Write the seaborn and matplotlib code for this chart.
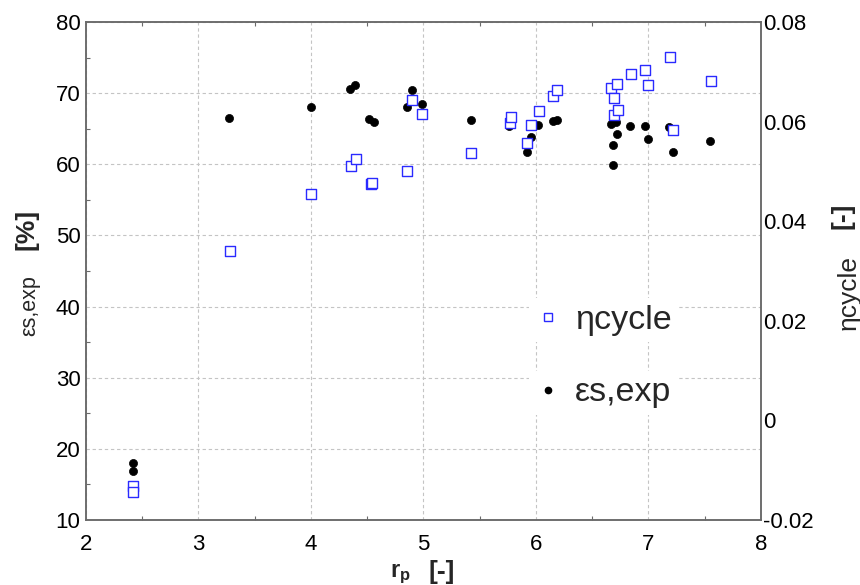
import matplotlib
matplotlib.use("Agg")
import matplotlib.pyplot as plt
import seaborn as sns
import pandas as pd
from matplotlib.ticker import MultipleLocator
from matplotlib.lines import Line2D

# ---- data ----
rp_eps = [2.42, 2.42, 3.27, 4.00, 4.35, 4.39, 4.52, 4.56, 4.85, 4.895, 4.99, 5.42, 5.76,
          5.92, 5.955, 6.02, 6.15, 6.19, 6.665, 6.685, 6.685, 6.715, 6.72, 6.84, 6.965,
          7.0, 7.185, 7.215, 7.55]
eps_exp = [18.0, 16.9, 66.5, 68.1, 70.6, 71.1, 66.3, 66.0, 68.0, 70.4, 68.5, 66.2, 65.4,
           61.7, 63.8, 65.5, 66.1, 66.2, 65.7, 62.7, 59.9, 66.0, 64.2, 65.4, 65.4,
           63.5, 65.3, 61.7, 63.3]

rp_eta = [2.42, 2.42, 3.28, 4.00, 4.355, 4.40, 4.53, 4.545, 4.855, 4.90, 4.99, 5.425, 5.77,
          5.78, 5.92, 5.96, 6.025, 6.155, 6.19, 6.67, 6.69, 6.69, 6.72, 6.73, 6.845,
          6.97, 7.0, 7.19, 7.22, 7.555]
eta_cycle = [-0.0131, -0.0144, 0.0341, 0.0454, 0.0510, 0.0524, 0.0474, 0.0476, 0.0501,
             0.0644, 0.0616, 0.0536, 0.0597, 0.0610, 0.0557, 0.0593, 0.0621, 0.0651,
             0.0663, 0.0668, 0.0647, 0.0614, 0.0676, 0.0623, 0.0696, 0.0703, 0.0674,
             0.0730, 0.0584, 0.0681]

x_ticks = [2, 3, 4, 5, 6, 7, 8]
left_ticks = [10, 20, 30, 40, 50, 60, 70, 80]
right_ticks = [-0.02, 0, 0.02, 0.04, 0.06, 0.08]
right_ticklabels = ["-0.02", "0", "0.02", "0.04", "0.06", "0.08"]

df_eps = pd.DataFrame({"rp": rp_eps, "eps": eps_exp})
df_eta = pd.DataFrame({"rp": rp_eta, "eta": eta_cycle})

sns.set_theme(style="white")
plt.rcParams["font.family"] = ["Liberation Sans", "DejaVu Sans"]
plt.rcParams["mathtext.fontset"] = "custom"
plt.rcParams["mathtext.rm"] = "Liberation Sans"
plt.rcParams["mathtext.bf"] = "Liberation Sans:bold"

W, H = 860, 585
fig = plt.figure(figsize=(W / 100, H / 100), dpi=100)
fig.patch.set_facecolor("white")
L, R, T, B = 86, 761, 22, 520
ax = fig.add_axes([L / W, 1 - B / H, (R - L) / W, (B - T) / H])

BLUE = "#2a2aff"
SPINE = "#6a6a6a"

sns.scatterplot(data=df_eps, x="rp", y="eps", ax=ax, marker="o", s=34,
                color="black", edgecolor="black", linewidth=0.5, zorder=3, legend=False)

ax.set_xlim(2, 8)
ax.set_ylim(10, 80)
ax.set_xticks(x_ticks)
ax.set_yticks(left_ticks)
ax.xaxis.set_minor_locator(MultipleLocator(0.5))
ax.yaxis.set_minor_locator(MultipleLocator(5))
ax.grid(True, which="major", color="#c4c4c4", linestyle=(0, (3, 2.5)), linewidth=0.8)
ax.set_axisbelow(True)
ax.tick_params(axis="x", which="major", length=0, labelsize=16, pad=10, colors="black")
ax.tick_params(axis="y", which="major", length=0, labelsize=16, pad=4, colors="black")
ax.tick_params(which="minor", direction="in", length=3, width=0.8, color=SPINE,
               top=True, bottom=True, left=True, right=False)
ax.set_xlabel("")
ax.set_ylabel("")
for s in ax.spines.values():
    s.set_color(SPINE)
    s.set_linewidth(1.1)
    s.set_visible(True)

ax2 = ax.twinx()
sns.scatterplot(data=df_eta, x="rp", y="eta", ax=ax2, marker="s", s=48,
                facecolor="white", edgecolor=BLUE, linewidth=1.0, zorder=4, legend=False)
ax2.set_ylim(-0.02, 0.08)
ax2.set_yticks(right_ticks)
ax2.set_yticklabels(right_ticklabels)
ax2.tick_params(axis="y", which="major", length=0, labelsize=16, pad=1.5, colors="black")
ax2.tick_params(which="minor", length=0)
ax2.set_ylabel("")
ax2.grid(False)
for s in ax2.spines.values():
    s.set_color(SPINE)
    s.set_linewidth(1.1)

# legends: two separate entries, each on its own white box
h_eta = Line2D([], [], linestyle="none", marker="s", markersize=6,
               markerfacecolor="white", markeredgecolor=BLUE, markeredgewidth=1.0)
h_eps = Line2D([], [], linestyle="none", marker="o", markersize=4.5,
               markerfacecolor="black", markeredgecolor="black")
leg_kw = dict(loc="center left", bbox_transform=fig.transFigure, frameon=True,
              facecolor="white", edgecolor="none", framealpha=1, fontsize=24.5,
              handlelength=0.7, handletextpad=0.45, borderpad=0.2, borderaxespad=0)
leg1 = ax2.legend([h_eta], ["ηcycle"], bbox_to_anchor=(529 / W, 1 - 320 / H), **leg_kw)
ax2.add_artist(leg1)
leg2 = ax2.legend([h_eps], ["εs,exp"], bbox_to_anchor=(529 / W, 1 - 393 / H), **leg_kw)

# axis titles
fig.text(30 / W, 1 - 306 / H, "εs,exp", rotation=90, ha="center", va="center", fontsize=15.5)
fig.text(27 / W, 1 - 229 / H, "[%]", rotation=90, ha="center", va="center",
         fontsize=19, fontweight="bold")
fig.text(849 / W, 1 - 292 / H, "ηcycle", rotation=90, ha="center", va="center", fontsize=19)
fig.text(843 / W, 1 - 216 / H, "[-]", rotation=90, ha="center", va="center",
         fontsize=19, fontweight="bold")
fig.text(400 / W, 1 - 574 / H, r"$\mathbf{r_p}$", ha="center", va="center", fontsize=17)
fig.text(442 / W, 1 - 572 / H, "[-]", ha="center", va="center", fontsize=19,
         fontweight="bold")

fig.savefig("out.png", dpi=100, facecolor="white")
